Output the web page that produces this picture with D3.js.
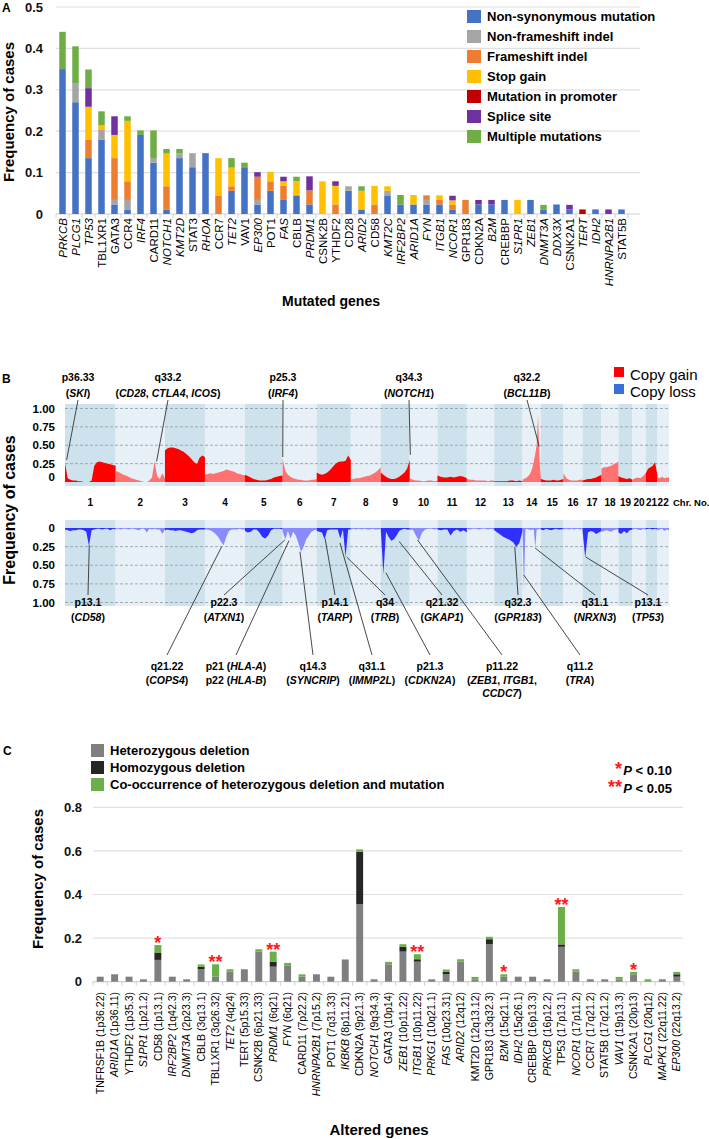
<!DOCTYPE html>
<html>
<head>
<meta charset="utf-8">
<script src="https://cdn.jsdelivr.net/npm/d3@7"></script>
<style>
  body { margin: 0; background: #fff; }
  svg { display: block; font-family: "Liberation Sans", Arial, sans-serif; }
</style>
</head>
<body>
<div id="chart"></div>
<script>
// ---------- panel A data ----------
const genesA = ["PRKCB","PLCG1","TP53","TBL1XR1","GATA3","CCR4","IRF4","CARD11","NOTCH1","KMT2D","STAT3","RHOA","CCR7","TET2","VAV1","EP300","POT1","FAS","CBLB","PRDM1","CSNK2B","YTHDF2","CD28","ARID2","CD58","KMT2C","IRF2BP2","ARID1A","FYN","ITGB1","NCOR1","GPR183","CDKN2A","B2M","CREBBP","S1PR1","ZEB1","DNMT3A","DDX3X","CSNK2A1","TERT","IDH2","HNRNPA2B1","STAT5B"];
const italicA = ["PRKCB","PLCG1","TP53","IRF4","NOTCH1","KMT2D","RHOA","TET2","EP300","FAS","PRDM1","ARID2","KMT2C","IRF2BP2","ARID1A","FYN","ITGB1","NCOR1","B2M","S1PR1","ZEB1","DNMT3A","DDX3X","TERT","IDH2","HNRNPA2B1"];
const nonSynonymous = [0.35,0.27,0.135,0.18,0.023,0.011,0.191,0.124,0.011,0.135,0.113,0.147,0,0.056,0.113,0.023,0.056,0.034,0.045,0.023,0,0,0.056,0.011,0,0.045,0.023,0.023,0.023,0.023,0.011,0,0.023,0.023,0.034,0,0.034,0.011,0.023,0.011,0,0.011,0,0.011];
const nonFrameshift = [0,0.045,0,0.023,0.011,0.023,0,0.011,0,0.011,0.034,0,0,0,0,0.011,0,0,0,0,0,0,0.011,0,0,0.011,0,0,0.011,0,0,0,0,0,0,0,0,0,0,0,0,0,0,0];
const frameshift = [0,0,0.045,0,0.101,0.045,0,0,0.056,0,0,0,0.045,0.011,0,0.056,0.023,0.034,0,0.034,0,0.023,0,0,0.023,0,0,0,0.011,0.011,0.011,0.034,0,0,0,0,0,0,0,0,0,0,0,0];
const stopGain = [0,0,0.079,0.011,0.056,0.146,0,0,0.079,0,0,0,0.09,0.045,0,0,0.023,0.011,0.034,0,0.079,0.045,0,0.045,0.045,0.011,0,0.023,0,0.011,0.011,0,0,0,0,0.034,0,0,0,0,0,0,0,0];
const promoter = [0,0,0,0,0,0,0,0,0,0,0,0,0,0,0,0,0,0,0,0,0,0,0,0,0,0,0,0,0,0,0,0,0,0,0,0,0,0,0,0,0.011,0,0,0];
const spliceSite = [0,0,0.045,0,0.045,0,0,0,0,0,0,0,0,0,0,0.011,0,0.011,0,0.034,0,0.011,0,0,0,0,0,0,0,0,0.011,0,0.011,0.011,0,0,0,0,0,0.011,0,0,0.011,0];
const multiple = [0.09,0.09,0.045,0.034,0,0.011,0.011,0.067,0.011,0.011,0,0,0,0.023,0.011,0,0,0,0.011,0,0,0,0,0.011,0,0,0.023,0,0,0,0,0,0,0,0,0,0,0.011,0,0,0,0,0,0];
const legendA = ["Non-synonymous mutation","Non-frameshift indel","Frameshift indel","Stop gain","Mutation in promoter","Splice site","Multiple mutations"];
const ticksA = [0, 0.1, 0.2, 0.3, 0.4, 0.5];

// ---------- panel B data ----------
const chrNames = ["1","2","3","4","5","6","7","8","9","10","11","12","13","14","15","16","17","18","19","20","21","22"];
const chrLenMb = [248,242,196,196,185,167,167,147,142,136,144,134,139,90,111,93,93,83,69,65,57,57];
const gainFreq = [
  [0.26,0.05,0.03,0.02,0.02,0.01,0.01,0,0,0,0.02,0.22,0.27,0.28,0.27,0.26,0.25,0.24,0.23,0.22],
  [0.15,0.14,0.12,0.1,0.09,0.07,0.05,0.04,0.03,0.02,0.01,0,0,0.02,0.06,0.28,0.08,0.04,0.12,0.05],
  [0.43,0.46,0.47,0.47,0.46,0.45,0.43,0.41,0.38,0.35,0.31,0.27,0.24,0.33,0.36,0.34],
  [0.1,0.11,0.12,0.11,0.12,0.13,0.14,0.15,0.17,0.16,0.15,0.14,0.12,0.11,0.1,0.09],
  [0.1,0.08,0.06,0.04,0.03,0.02,0.02,0.02,0.03,0.04,0.06,0.07,0.08,0.09],
  [0.32,0.15,0.1,0.07,0.05,0.04,0.03,0.03,0.02,0.02,0.02,0.03,0.03,0.04],
  [0.13,0.11,0.1,0.11,0.13,0.16,0.2,0.24,0.27,0.28,0.28,0.29,0.36,0.3],
  [0.03,0.04,0.05,0.05,0.06,0.07,0.08,0.09,0.11,0.13,0.16,0.2],
  [0.13,0.1,0.07,0.05,0.04,0.04,0.05,0.07,0.1,0.13,0.18,0.3],
  [0.05,0.03,0.02,0.02,0.01,0.01,0.02,0.02,0.01,0.02],
  [0.09,0.07,0.06,0.06,0.07,0.06,0.07,0.08,0.07,0.05],
  [0.04,0.03,0.03,0.02,0.02,0.02,0.02,0.01,0.02,0.02],
  [0.01,0.01,0.01,0.01,0.01,0.02,0.02,0.01,0.02,0.01],
  [0.03,0.04,0.05,0.06,0.08,0.1,0.14,0.2,0.28,0.38,0.5,0.9,0.3,0.05],
  [0.04,0.03,0.02,0.02,0.02,0.03,0.02,0.02,0.03,0.04],
  [0.12,0.05,0.03,0.02,0.02,0.02,0.03,0.03],
  [0.02,0.03,0.04,0.04,0.05,0.06,0.08,0.1],
  [0.18,0.2,0.2,0.21,0.22,0.24,0.26,0.28],
  [0.08,0.06,0.05,0.04,0.05,0.03],
  [0.03,0.05,0.06,0.05,0.08,0.12],
  [0.12,0.18,0.2,0.22,0.27,0.1],
  [0.06,0.05,0.07,0.05,0.06,0.06]
];
const lossFreq = [
  [0.02,0.03,0.04,0.03,0.03,0.02,0.02,0.03,0.05,0.24,0.03,0.02,0.01,0.01,0.02,0.01,0.01,0.03,0.01,0.02],
  [0.01,0.01,0.02,0.01,0.01,0.02,0.01,0.01,0.02,0.03,0.01,0.01,0.06,0.01,0.02,0.01,0.02,0.02,0.08,0.02],
  [0.03,0.02,0.03,0.03,0.04,0.03,0.03,0.04,0.05,0.06,0.07,0.06,0.03,0.02,0.02,0.02],
  [0.02,0.02,0.03,0.05,0.08,0.12,0.18,0.23,0.12,0.04,0.02,0.02,0.02,0.01,0.02,0.02],
  [0.04,0.06,0.05,0.02,0.02,0.06,0.12,0.14,0.1,0.03,0.01,0.01,0.01,0.02],
  [0.05,0.15,0.04,0.14,0.05,0.1,0.2,0.32,0.25,0.15,0.1,0.05,0.03,0.02],
  [0.04,0.05,0.06,0.15,0.03,0.02,0.02,0.02,0.02,0.14,0.02,0.39,0.02,0.02],
  [0.02,0.01,0.02,0.01,0.02,0.01,0.02,0.02,0.01,0.02,0.02,0.01],
  [0.02,0.62,0.05,0.12,0.17,0.15,0.1,0.04,0.02,0.01,0.02,0.02],
  [0.03,0.02,0.1,0.17,0.06,0.02,0.01,0.01,0.02,0.01],
  [0.02,0.03,0.02,0.02,0.1,0.04,0.02,0.05,0.03,0.06],
  [0.01,0.02,0.01,0.01,0.02,0.01,0.01,0.02,0.01,0.02],
  [0.03,0.06,0.09,0.12,0.14,0.16,0.19,0.25,0.2,0.04],
  [0.02,0.85,0.02,0.01,0.02,0.02,0.03,0.02,0.02,0.27,0.02,0.02,0.01,0.02],
  [0.02,0.03,0.01,0.02,0.03,0.02,0.01,0.02,0.02,0.01],
  [0.02,0.01,0.02,0.01,0.02,0.01,0.02,0.01],
  [0.03,0.4,0.06,0.04,0.05,0.08,0.06,0.04],
  [0.05,0.04,0.03,0.04,0.05,0.03,0.02,0.02],
  [0.06,0.08,0.04,0.07,0.03,0.02],
  [0.02,0.01,0.02,0.03,0.01,0.02],
  [0.02,0.01,0.01,0.02,0.01,0.02],
  [0.03,0.02,0.01,0.04,0.02,0.03]
];
const ticksB = [0, 0.25, 0.5, 0.75, 1];
// labelled regions: lines of text (_x_ = italic), chromosome, position (Mb), frequency at peak
const gainPeaks = [
  { text: ["p36.33", "(_SKI_)"], chr: 1, mb: 8, freq: 0.3 },
  { text: ["q33.2", "(_CD28_, _CTLA4_, _ICOS_)"], chr: 2, mb: 201, freq: 0.28 },
  { text: ["p25.3", "(_IRF4_)"], chr: 6, mb: 0.5, freq: 0.34 },
  { text: ["q34.3", "(_NOTCH1_)"], chr: 9, mb: 145, freq: 0.37 },
  { text: ["q32.2", "(_BCL11B_)"], chr: 14, mb: 82, freq: 0.48 }
];
const lossPeaks = [
  { text: ["p13.1", "(_CD58_)"], chr: 1, mb: 119, freq: 0.23 },
  { text: ["p22.3", "(_ATXN1_)"], chr: 6, mb: 11, freq: 0.16 },
  { text: ["p14.1", "(_TARP_)"], chr: 7, mb: 41, freq: 0.14 },
  { text: ["q34", "(_TRB_)"], chr: 7, mb: 147, freq: 0.39 },
  { text: ["q21.32", "(_GKAP1_)"], chr: 9, mb: 90, freq: 0.18 },
  { text: ["q32.3", "(_GPR183_)"], chr: 13, mb: 101, freq: 0.25 },
  { text: ["q31.1", "(_NRXN3_)"], chr: 14, mb: 62, freq: 0.27 },
  { text: ["p13.1", "(_TP53_)"], chr: 17, mb: 16, freq: 0.39 },
  { text: ["q21.22", "(_COPS4_)"], chr: 4, mb: 82, freq: 0.25 },
  { text: ["p21 (_HLA-A_)", "p22 (_HLA-B_)"], chr: 6, mb: 31, freq: 0.17 },
  { text: ["q14.3", "(_SYNCRIP_)"], chr: 6, mb: 85, freq: 0.32 },
  { text: ["q31.1", "(_IMMP2L_)"], chr: 7, mb: 114, freq: 0.2 },
  { text: ["p21.3", "(_CDKN2A_)"], chr: 9, mb: 25, freq: 0.6 },
  { text: ["p11.22", "(_ZEB1_, _ITGB1_,", "_CCDC7_)"], chr: 10, mb: 38, freq: 0.16 },
  { text: ["q11.2", "(_TRA_)"], chr: 14, mb: 6, freq: 0.63 }
];

// ---------- panel C data ----------
const genesC = ["TNFRSF1B","ARID1A","YTHDF2","S1PR1","CD58","IRF2BP2","DNMT3A","CBLB","TBL1XR1","TET2","TERT","CSNK2B","PRDM1","FYN","CARD11","HNRNPA2B1","POT1","IKBKB","CDKN2A","NOTCH1","GATA3","ZEB1","ITGB1","PRKG1","FAS","ARID2","KMT2D","GPR183","B2M","IDH2","CREBBP","PRKCB","TP53","NCOR1","CCR7","STAT5B","VAV1","CSNK2A1","PLCG1","MAPK1","EP300"];
const bandsC = ["1p36.22","1p36.11","1p35.3","1p21.2","1p13.1","1q42.3","2p23.3","3q13.1","3q26.32","4q24","5p15.33","6p21.33","6q21","6q21","7p22.2","7p15.2","7q31.33","8p11.21","9p21.3","9q34.3","10p14","10p11.22","10p11.22","10q21.1","10q23.31","12q12","12q13.12","13q32.3","15q21.1","15q26.1","16p13.3","16p12.2","17p13.1","17p11.2","17q21.2","17q21.2","19p13.3","20p13","20q12","22q11.22","22q13.2"];
const italicC = ["ARID1A","S1PR1","IRF2BP2","DNMT3A","TET2","PRDM1","FYN","HNRNPA2B1","IKBKB","NOTCH1","ZEB1","ITGB1","PRKG1","FAS","ARID2","B2M","IDH2","PRKCB","NCOR1","VAV1","PLCG1","MAPK1","EP300"];
const hetDeletion = [0.023,0.034,0.023,0.011,0.1,0.023,0.011,0.057,0.023,0.046,0.057,0.138,0.069,0.075,0.023,0.034,0.023,0.102,0.356,0.011,0.08,0.138,0.092,0.011,0.034,0.092,0.011,0.172,0.023,0.023,0.023,0.011,0.16,0.046,0.011,0.011,0.011,0.034,0,0.011,0.023];
const homDeletion = [0,0,0,0,0.034,0,0,0.011,0,0,0,0,0.023,0,0,0,0,0,0.24,0,0,0.023,0.011,0,0.011,0,0,0.023,0,0,0,0,0.011,0,0,0,0,0,0,0,0.011];
const coOccurrence = [0,0,0,0,0.034,0,0,0.011,0.057,0.011,0,0.011,0.046,0.011,0.011,0,0,0,0.011,0,0.011,0.011,0.023,0,0.011,0.011,0.011,0.011,0.011,0,0,0,0.172,0.011,0,0,0.011,0.011,0.011,0,0.011];
const signifC = ["","","","","*","","","","**","","","","**","","","","","","","","","","**","","","","","","*","","","","**","","","","","*","","",""];
const legendC = ["Heterozygous deletion","Homozygous deletion","Co-occurrence of heterozygous deletion and mutation"];
const ticksC = [0, 0.2, 0.4, 0.6, 0.8];

// ---------- drawing ----------
const width = 709;
const height = 1139;
const svg = d3.select("#chart").append("svg")
  .attr("width", width).attr("height", height)
  .attr("viewBox", `0 0 ${width} ${height}`);
svg.append("rect").attr("width", width).attr("height", height).attr("fill", "#fff");

// text with _italic_ pieces
const richText = (sel, str) => {
  str.split("_").forEach((s, i) => {
    if (s) sel.append("tspan").style("font-style", i % 2 ? "italic" : "normal").text(s);
  });
};
const panelLabel = (t, x, y) => svg.append("text").attr("x", x).attr("y", y)
  .style("font-size", "12px").style("font-weight", "bold").text(t);
const yTitle = (x, y, size) => svg.append("text")
  .attr("transform", `translate(${x},${y}) rotate(-90)`)
  .attr("text-anchor", "middle").style("font-size", size).style("font-weight", "bold")
  .text("Frequency of cases");

// ===== A =====
panelLabel("A", 2, 12);
const xA = d3.scaleBand().domain(genesA).range([56, 628]).paddingInner(0.5).paddingOuter(0.25);
const yA = d3.scaleLinear().domain([0, 0.5]).range([214, 7]);
const colorsA = ["#4472c4", "#a5a5a5", "#ed7d31", "#ffc000", "#c00000", "#7030a0", "#70ad47"];
const keysA = ["nonSyn", "nonFrame", "frameshift", "stop", "promoter", "splice", "multiple"];
const rowsA = genesA.map((g, i) => ({
  gene: g, nonSyn: nonSynonymous[i], nonFrame: nonFrameshift[i], frameshift: frameshift[i],
  stop: stopGain[i], promoter: promoter[i], splice: spliceSite[i], multiple: multiple[i]
}));

svg.append("g").selectAll("line").data(ticksA.filter(d => d > 0)).join("line")
  .attr("x1", 56).attr("x2", 640).attr("y1", d => yA(d)).attr("y2", d => yA(d))
  .attr("stroke", "#e0e0e0").attr("stroke-width", 1.2);
svg.append("line").attr("x1", 56).attr("x2", 640).attr("y1", yA(0)).attr("y2", yA(0))
  .attr("stroke", "#d0d0d0").attr("stroke-width", 1.2);
svg.append("g").selectAll("line").data(d3.range(genesA.length + 1)).join("line")
  .attr("x1", i => xA.range()[0] + i * xA.step()).attr("x2", i => xA.range()[0] + i * xA.step())
  .attr("y1", yA(0)).attr("y2", yA(0) + 4).attr("stroke", "#d0d0d0");

const axA = svg.append("g").attr("transform", "translate(47,0)")
  .call(d3.axisLeft(yA).tickValues(ticksA).tickSize(0).tickPadding(4)
    .tickFormat(d => d === 0 ? "0" : d.toFixed(1)));
axA.attr("font-family", null).select(".domain").remove();
axA.selectAll("text").style("font-size", "13px").style("font-weight", "bold").attr("fill", "#111");

svg.append("g").selectAll("g").data(d3.stack().keys(keysA)(rowsA)).join("g")
  .attr("fill", (d, i) => colorsA[i])
  .selectAll("rect").data(d => d).join("rect")
  .attr("x", d => xA(d.data.gene)).attr("width", xA.bandwidth())
  .attr("y", d => yA(d[1])).attr("height", d => yA(d[0]) - yA(d[1]));

svg.append("g").selectAll("text").data(genesA).join("text")
  .attr("transform", d => `translate(${xA(d) + xA.bandwidth() / 2},218) rotate(-90)`)
  .attr("text-anchor", "end").attr("dy", "0.35em")
  .style("font-size", "11.5px").style("font-style", d => italicA.includes(d) ? "italic" : "normal")
  .text(d => d);

const legA = svg.append("g").selectAll("g").data(legendA).join("g")
  .attr("transform", (d, i) => `translate(467,${10 + i * 20})`);
legA.append("rect").attr("width", 14).attr("height", 13).attr("fill", (d, i) => colorsA[i]);
legA.append("text").attr("x", 20).attr("y", 11).style("font-size", "13px").style("font-weight", "bold").text(d => d);

yTitle(14, 112, "15px");
svg.append("text").attr("x", 331).attr("y", 306).attr("text-anchor", "middle")
  .style("font-size", "14px").style("font-weight", "bold").text("Mutated genes");

// ===== B =====
panelLabel("B", 2, 383);
const chrStart = [0, ...d3.cumsum(chrLenMb)];
const xB = d3.scaleLinear().domain([0, d3.sum(chrLenMb)]).range([65, 669]);
const yUp = d3.scaleLinear().domain([0, 1]).range([482, 408.5]);
const yDn = d3.scaleLinear().domain([0, 1]).range([528, 602.5]);
const bandFill = i => i % 2 ? "#e6f0f6" : "#cde2ed";
const gainFill = i => i % 2 ? "#ff7272" : "#ff0000";
const lossFill = i => i % 2 ? "#8a8aff" : "#2f2fff";
const posOf = (c, mb) => chrStart[c - 1] + mb;

[[404, 486], [520, 606]].forEach(([t, b]) => {
  svg.append("g").selectAll("rect").data(chrNames).join("rect")
    .attr("x", (d, i) => xB(chrStart[i])).attr("width", (d, i) => xB(chrStart[i + 1]) - xB(chrStart[i]))
    .attr("y", t).attr("height", b - t).attr("fill", (d, i) => bandFill(i));
});
[yUp, yDn].forEach(s => {
  svg.append("g").selectAll("line").data(ticksB.filter(d => d > 0)).join("line")
    .attr("x1", 65).attr("x2", 669).attr("y1", d => s(d)).attr("y2", d => s(d))
    .attr("stroke", "#8c9aa2").attr("stroke-width", 0.8).attr("stroke-dasharray", "3,2");
});

const profile = (vals, i) => vals.map((v, k) => ({ pos: chrStart[i] + chrLenMb[i] * k / (vals.length - 1), v }));
svg.append("g").selectAll("path").data(gainFreq).join("path")
  .attr("fill", (d, i) => gainFill(i))
  .attr("d", (d, i) => d3.area().x(p => xB(p.pos)).y0(yUp(0)).y1(p => yUp(p.v))(profile(d, i)));
svg.append("g").selectAll("path").data(lossFreq).join("path")
  .attr("fill", (d, i) => lossFill(i))
  .attr("d", (d, i) => d3.area().x(p => xB(p.pos)).y0(yDn(0)).y1(p => yDn(p.v))(profile(d, i)));

[[yUp, -5], [yDn, 0]].forEach(([s, off]) => {
  svg.append("g").selectAll("text").data(ticksB).join("text")
    .attr("x", 55).attr("y", d => s(d) + (d === 0 ? off : 0)).attr("dy", "0.35em")
    .attr("text-anchor", "end").style("font-size", "11.5px").style("font-weight", "bold")
    .text(d => d === 0 ? "0" : d.toFixed(2));
});

svg.append("g").selectAll("text").data(chrNames).join("text")
  .attr("x", (d, i) => xB(chrStart[i] + chrLenMb[i] / 2)).attr("y", 506)
  .attr("text-anchor", "middle").style("font-size", "10px").style("font-weight", "bold").text(d => d);
svg.append("text").attr("x", 673).attr("y", 506).style("font-size", "9.5px").style("font-weight", "bold").text("Chr. No.");

// peak annotations
const gainLabelX = [78, 168, 283, 409, 527];
const lossLabel = [
  [88, 0], [224, 0], [335, 0], [385, 0], [442, 0], [518, 0], [595, 0], [648, 0],
  [167, 1], [236, 1], [313, 1], [372, 1], [430, 1], [502, 1], [580, 1]
];
const annot = svg.append("g");
const drawLabel = (lines, x, y0) => {
  lines.forEach((ln, k) => {
    const t = annot.append("text").attr("x", x).attr("y", y0 + k * 13.5).attr("text-anchor", "middle")
      .style("font-size", "10.5px").style("font-weight", "bold");
    richText(t, ln);
  });
};
gainPeaks.forEach((p, i) => {
  const lx = gainLabelX[i];
  annot.append("line").attr("x1", lx).attr("y1", 400)
    .attr("x2", xB(posOf(p.chr, p.mb))).attr("y2", yUp(p.freq))
    .attr("stroke", "#333").attr("stroke-width", 0.9);
  annot.append("text").attr("x", lx).attr("y", 381).attr("text-anchor", "middle")
    .style("font-size", "10.5px").style("font-weight", "bold").text(p.text[0]);
  const t = annot.append("text").attr("x", lx).attr("y", 397).attr("text-anchor", "middle")
    .style("font-size", "10.5px").style("font-weight", "bold");
  richText(t, p.text[1]);
});
lossPeaks.forEach((p, i) => {
  const [lx, row] = lossLabel[i];
  annot.append("line").attr("x1", xB(posOf(p.chr, p.mb))).attr("y1", yDn(p.freq))
    .attr("x2", lx).attr("y2", row ? 655 : 595)
    .attr("stroke", "#333").attr("stroke-width", 0.9);
  if (row) drawLabel(p.text, lx, 670);
  else {
    annot.append("text").attr("x", lx).attr("y", 606).attr("text-anchor", "middle")
      .style("font-size", "10.5px").style("font-weight", "bold").text(p.text[0]);
    const t = annot.append("text").attr("x", lx).attr("y", 621).attr("text-anchor", "middle")
      .style("font-size", "10.5px").style("font-weight", "bold");
    richText(t, p.text[1]);
  }
});

// legend B
[["Copy gain", "#ff0000"], ["Copy loss", "#3a6fd8"]].forEach(([t, c], i) => {
  svg.append("rect").attr("x", 614).attr("y", 367 + i * 17).attr("width", 10).attr("height", 10).attr("fill", c);
  svg.append("text").attr("x", 630).attr("y", 380 + i * 17).style("font-size", "15px").text(t);
});
yTitle(15, 510, "16px");

// ===== C =====
panelLabel("C", 3, 755);
const xC = d3.scaleBand().domain(genesC).range([93, 684]).paddingInner(0.52).paddingOuter(0.26);
const yC = d3.scaleLinear().domain([0, 0.8]).range([981.7, 807.3]);
const colorsC = ["#7f7f7f", "#262626", "#6aaf47"];
const rowsC = genesC.map((g, i) => ({ gene: g, het: hetDeletion[i], hom: homDeletion[i], co: coOccurrence[i] }));

svg.append("g").selectAll("line").data(ticksC.filter(d => d > 0)).join("line")
  .attr("x1", 93).attr("x2", 683).attr("y1", d => yC(d)).attr("y2", d => yC(d))
  .attr("stroke", "#e0e0e0").attr("stroke-width", 1.2);
svg.append("line").attr("x1", 93).attr("x2", 683).attr("y1", yC(0)).attr("y2", yC(0))
  .attr("stroke", "#d0d0d0").attr("stroke-width", 1.2);
svg.append("g").selectAll("line").data(d3.range(genesC.length + 1)).join("line")
  .attr("x1", i => xC.range()[0] + i * xC.step()).attr("x2", i => xC.range()[0] + i * xC.step())
  .attr("y1", yC(0)).attr("y2", yC(0) + 4).attr("stroke", "#d0d0d0");

const axC = svg.append("g").attr("transform", "translate(86,0)")
  .call(d3.axisLeft(yC).tickValues(ticksC).tickSize(0).tickPadding(4)
    .tickFormat(d => d === 0 ? "0" : d.toFixed(1)));
axC.attr("font-family", null).select(".domain").remove();
axC.selectAll("text").style("font-size", "13px").style("font-weight", "bold").attr("fill", "#111");

const stackC = d3.stack().keys(["het", "hom", "co"])(rowsC);
svg.append("g").selectAll("g").data(stackC).join("g")
  .attr("fill", (d, i) => colorsC[i])
  .selectAll("rect").data(d => d).join("rect")
  .attr("x", d => xC(d.data.gene)).attr("width", xC.bandwidth())
  .attr("y", d => yC(d[1])).attr("height", d => yC(d[0]) - yC(d[1]));

svg.append("g").selectAll("text").data(genesC.filter((g, i) => signifC[i])).join("text")
  .attr("x", d => xC(d) + xC.bandwidth() / 2)
  .attr("y", d => yC(stackC[2][genesC.indexOf(d)][1]) + 4)
  .attr("text-anchor", "middle").attr("fill", "#ff1a1a")
  .style("font-size", "18px").style("font-weight", "bold")
  .text(d => signifC[genesC.indexOf(d)]);

const labC = svg.append("g").selectAll("text").data(genesC).join("text")
  .attr("transform", d => `translate(${xC(d) + xC.bandwidth() / 2},992) rotate(-90)`)
  .attr("text-anchor", "end").attr("dy", "0.35em").style("font-size", "10.5px");
labC.append("tspan").style("font-style", d => italicC.includes(d) ? "italic" : "normal").text(d => d);
labC.append("tspan").text((d, i) => ` (${bandsC[i]})`);

const legC = svg.append("g").selectAll("g").data(legendC).join("g")
  .attr("transform", (d, i) => `translate(91,${744 + i * 17})`);
legC.append("rect").attr("width", 13).attr("height", 13).attr("fill", (d, i) => colorsC[i]);
legC.append("text").attr("x", 19).attr("y", 11).style("font-size", "13px").style("font-weight", "bold").text(d => d);

[["*", "0.10"], ["**", "0.05"]].forEach(([s, p], i) => {
  const y = 775 + i * 18;
  svg.append("text").attr("x", 622).attr("y", y).attr("text-anchor", "end").attr("fill", "#ff1a1a")
    .style("font-size", "18px").style("font-weight", "bold").text(s);
  const t = svg.append("text").attr("x", 672).attr("y", y).attr("text-anchor", "end")
    .style("font-size", "13px").style("font-weight", "bold");
  t.append("tspan").style("font-style", "italic").text("P");
  t.append("tspan").text(` < ${p}`);
});

yTitle(43, 879, "15px");
svg.append("text").attr("x", 379).attr("y", 1135).attr("text-anchor", "middle")
  .style("font-size", "15px").style("font-weight", "bold").text("Altered genes");
</script>
</body>
</html>
